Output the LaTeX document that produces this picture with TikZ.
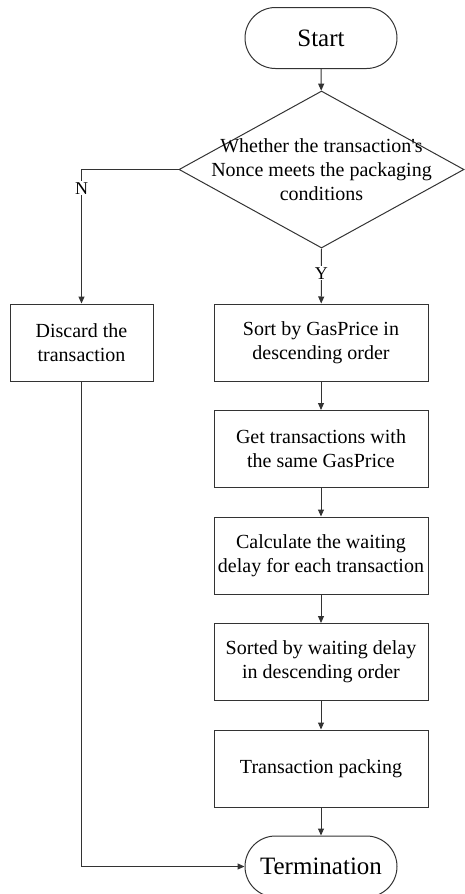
\documentclass[tikz,border=0pt]{standalone}
\usepackage{fontspec}
\setmainfont{Liberation Serif}
\usetikzlibrary{arrows.meta}
\usetikzlibrary{shapes.geometric}

\begin{document}
\begin{tikzpicture}[x=1pt, y=-1pt,
    box/.style={draw=black!80, line width=1pt, minimum width=214pt, minimum height=77pt,
        align=center, inner sep=2pt, font=\fontsize{20}{24}\selectfont},
    term/.style={draw=black!80, line width=1pt, rounded corners=30.5pt,
        minimum width=152pt, minimum height=61pt, font=\fontsize{25}{30}\selectfont},
    decision/.style={draw=black!80, line width=1pt, diamond, inner sep=0pt,
        minimum width=285pt, minimum height=157pt},
    flow/.style={draw=black!80, line width=1pt, -{Triangle[length=7pt,width=6pt]}},
    yn/.style={fill=white, inner sep=1pt, font=\fontsize{18}{20}\selectfont}]

    \useasboundingbox (0,0) rectangle (464,894);

    % Graph nodes
    \node[term] (start) at (321,38) {Start};
    \node[decision, label={[align=center, font=\fontsize{20}{24}\selectfont]center:Whether the transaction\textquotesingle s\\Nonce meets the packaging\\conditions}] (cond) at (321.5,169.5) {};
    \node[box, minimum width=143pt] (discard) at (81.5,342.5) {Discard the\\transaction};
    \node[box] (sort) at (321,342.5) {Sort by GasPrice in\\descending order};
    \node[box] (same) at (321,449) {Get transactions with\\the same GasPrice};
    \node[box] (calc) at (321,555.5) {Calculate the waiting\\delay for each transaction};
    \node[box] (sorted) at (321,662) {Sorted by waiting delay\\in descending order};
    \node[box] (pack) at (321,768.5) {Transaction packing};
    \node[term] (term) at (321,866.5) {Termination};

    % Edges
    \draw[flow] (start) -- (cond);
    \draw[flow] (cond.south) -- node[yn, pos=0.45] {Y} (sort);
    \draw[flow] (cond.west) -| node[yn, pos=0.57] {N} (discard);
    \draw[flow] (sort) -- (same);
    \draw[flow] (same) -- (calc);
    \draw[flow] (calc) -- (sorted);
    \draw[flow] (sorted) -- (pack);
    \draw[flow] (pack) -- (term);
    \draw[flow] (discard) |- (term);

\end{tikzpicture}
\end{document}
